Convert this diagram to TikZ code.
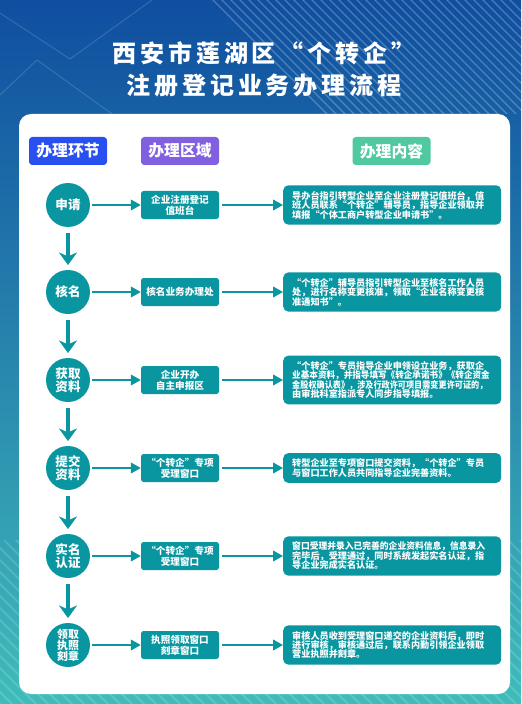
\documentclass[tikz,border=0pt]{standalone}
\usepackage{fontspec}
\setmainfont{Noto Sans CJK SC}
\usetikzlibrary{positioning}
\usetikzlibrary{arrows.meta}
\definecolor{flowteal}{RGB}{10,150,160}
\definecolor{hdrblue}{RGB}{40,80,240}
\definecolor{hdrpurple}{RGB}{128,96,224}
\definecolor{hdrgreen}{RGB}{80,200,160}
\definecolor{bgtop}{RGB}{15,78,160}
\definecolor{bgmid}{RGB}{30,128,180}
\definecolor{bgbot}{RGB}{64,188,186}
\tikzset{
  stage/.style = {circle, fill=flowteal, text=white, minimum size=13.2mm, inner sep=0, align=center},
  area/.style = {rectangle, rounded corners=0.8mm, fill=flowteal, text=white, minimum width=23.4mm,
                 minimum height=8.4mm, inner sep=0.4mm, align=center,
                 font=\bfseries\fontsize{8.2}{9.4}\selectfont},
  content/.style = {rectangle, rounded corners=1.5mm, fill=flowteal, text=white, text width=60mm,
                    inner xsep=2.7mm, inner ysep=1.7mm, align=left,
                    font=\bfseries\fontsize{7.8}{8.1}\selectfont},
  hdr/.style = {rectangle, rounded corners=1mm, text=white, minimum width=23.4mm, minimum height=8.4mm,
                font=\bfseries\fontsize{13.5}{14}\selectfont},
  flow/.style = {line width=0.6mm, draw=flowteal, -{Triangle[length=3mm,width=3.2mm]}},
  down/.style = {line width=1.2mm, draw=flowteal, -{Stealth[length=3.8mm,width=5.4mm,inset=1.2mm]}}
}
\newcommand{\squeeze}[2]{\scalebox{#1}[1]{#2}}

\begin{document}
\begin{tikzpicture}[x=0.3mm,y=-0.3mm]
    \useasboundingbox (0,0) rectangle (521,704);
    % background
    \shade[top color=bgtop, middle color=bgmid, bottom color=bgbot] (0,0) rectangle (521,704);
    \draw[white, opacity=0.15, line width=0.3mm] (0,13) -- (70,59) -- (152,0);
    \draw[white, opacity=0.15, line width=0.3mm] (0,95) -- (37,60) -- (112,114);
    \begin{scope}
      \clip (205,0) -- (521,0) -- (521,114) -- (320,114) -- cycle;
      \foreach \k in {0,...,45} {
          \draw[white, opacity=0.25, line width=0.35mm] (100+\k*9,-5) -- ++(130,130);
      }
    \end{scope}
    \begin{scope}
      \clip (0,540) rectangle (521,704);
      \foreach \k in {0,...,70} {
          \draw[white, opacity=0.15, line width=0.6mm] (-200+\k*12,540) -- ++(170,170);
      }
    \end{scope}
    \fill[white, rounded corners=3.6mm] (19,114) rectangle (510,694);

    \node[text=white, align=center,
          font=\bfseries\fontsize{20.5}{27.5}\selectfont\addfontfeatures{LetterSpace=16,CharacterWidth=Full}]
          (title) at (264,69) {西安市莲湖区“个转企”\\注册登记业务办理流程};

    \node[hdr, fill=hdrblue] (h1) at (68,151) {办理环节};
    \node[hdr, fill=hdrpurple] (h2) at (180,151) {办理区域};
    \node[hdr, fill=hdrgreen] (h3) at (391.5,151) {办理内容};

    \foreach \i/\y/\fs/\stg/\are/\info in {
      1/205/10.7/{申请}/{企业注册登记\\值班台}/{导办台指引转型企业至企业注册登记值班台，值\\班人员联系“个转企”辅导员，指导企业领取并\\填报“个体工商户转型企业申请书”。},
      2/292/10.7/{核名}/{核名业务办理处}/{“个转企”辅导员指引转型企业至核名工作人员\\处，进行名称变更核准，领取“企业名称变更核\\准通知书”。},
      3/380/10.7/{获取\\资料}/{企业开办\\自主申报区}/{“个转企”专员指导企业申领设立业务，获取企\\\squeeze{0.94}{业基本资料，并指导填写《转企承诺书》《转企资金}\\\squeeze{0.89}{金股权确认表》，涉及行政许可项目需变更许可证的，}\\由审批科室指派专人同步指导填报。},
      4/468/10.7/{提交\\资料}/{“个转企”专项\\受理窗口}/{转型企业至专项窗口提交资料，“个转企”专员\\与窗口工作人员共同指导企业完善资料。},
      5/556/10.7/{实名\\认证}/{“个转企”专项\\受理窗口}/{\squeeze{0.96}{窗口受理并录入已完善的企业资料信息，信息录入}\\完毕后，受理通过，同时系统发起实名认证，指\\导企业完成实名认证。},
      6/645/9.3/{领取\\执照\\刻章}/{执照领取窗口\\刻章窗口}/{审核人员收到受理窗口递交的企业资料后，即时\\进行审核，审核通过后，联系内勤引领企业领取\\营业执照并刻章。}} {
        \node[stage, font=\bfseries\fontsize{\fs}{\fs}\selectfont] (s\i) at (68,\y) {\stg};
        \node[area] (a\i) at (180,\y) {\are};
        \node[content, anchor=west] (c\i) at (283,\y) {\info};
        \draw[flow, shorten <=0.5mm] (s\i) -- (a\i);
        \draw[flow, shorten <=0.8mm] (a\i) -- (c\i);
    }
    \foreach \i [count=\j from 2] in {1,...,5} {
        \draw[down, shorten <=1.8mm, shorten >=1.4mm] (s\i.south) -- (s\j.north);
    }
\end{tikzpicture}
\end{document}
